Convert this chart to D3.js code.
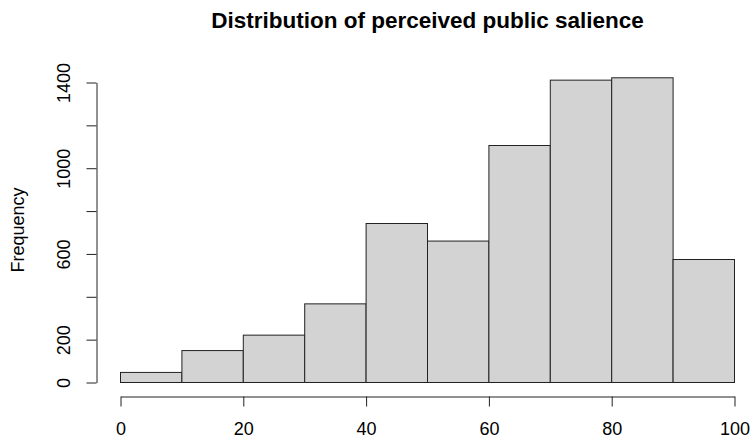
<!DOCTYPE html>
<html>
<head>
<meta charset="utf-8">
<script src="https://cdn.jsdelivr.net/npm/d3@7"></script>
<style>
  html, body { margin: 0; padding: 0; background: #fff; }
  svg { display: block; font-family: "Liberation Sans", Arial, sans-serif; }
</style>
</head>
<body>
<svg id="chart" width="752" height="444"></svg>
<script>
// Histogram bins (lower and upper edges) and counts
const binStarts = [0, 10, 20, 30, 40, 50, 60, 70, 80, 90];
const binEnds   = [10, 20, 30, 40, 50, 60, 70, 80, 90, 100];
const counts    = [47, 149, 221, 367, 742, 660, 1106, 1411, 1422, 574];

// Axis ticks
const xTicks = [0, 20, 40, 60, 80, 100];
const yTicks = [0, 200, 400, 600, 800, 1000, 1200, 1400];
const yTickLabels = ["0", "200", "", "600", "", "1000", "", "1400"];

const titleText = "Distribution of perceived public salience";
const yTitle = "Frequency";

const svg = d3.select("#chart");
const ink = "#222";

const x = d3.scaleLinear().domain([0, 100]).range([120.5, 734.5]);
const y = d3.scaleLinear().domain([0, 1400]).range([382.5, 82.5]);

// Bars
svg.append("g").selectAll("rect")
  .data(counts)
  .join("rect")
  .attr("x", (d, i) => x(binStarts[i]))
  .attr("width", (d, i) => x(binEnds[i]) - x(binStarts[i]))
  .attr("y", d => y(d))
  .attr("height", d => y(0) - y(d))
  .attr("fill", "#d3d3d3")
  .attr("stroke", ink)
  .attr("stroke-width", 1);

// X axis
const xAxis = svg.append("g")
  .attr("transform", "translate(0,396.5)")
  .call(d3.axisBottom(x).tickValues(xTicks).tickFormat(d3.format("d"))
    .tickSize(10).tickSizeOuter(0).tickPadding(16));
xAxis.select(".domain").attr("stroke", ink);
xAxis.selectAll(".tick line").attr("stroke", ink);
xAxis.selectAll(".tick text")
  .attr("fill", "#000")
  .style("font-size", "18px");

// Y axis
const yAxis = svg.append("g")
  .attr("transform", "translate(96.5,0)")
  .call(d3.axisLeft(y).tickValues(yTicks).tickFormat((d, i) => yTickLabels[i])
    .tickSize(10).tickSizeOuter(0));
yAxis.select(".domain").attr("stroke", ink);
yAxis.selectAll(".tick line").attr("stroke", ink);
yAxis.selectAll(".tick text")
  .attr("x", 0).attr("y", 0).attr("dy", 0)
  .attr("text-anchor", "middle")
  .attr("transform", "translate(-26.5,0) rotate(-90)")
  .attr("fill", "#000")
  .style("font-size", "18px");

// Title
svg.append("text")
  .attr("x", 427.5).attr("y", 28.3)
  .attr("text-anchor", "middle")
  .style("font-size", "22.5px")
  .style("font-weight", "bold")
  .attr("fill", "#000")
  .text(titleText);

// Y axis title
svg.append("text")
  .attr("transform", "translate(23.5,230) rotate(-90)")
  .attr("text-anchor", "middle")
  .style("font-size", "18px")
  .attr("fill", "#000")
  .text(yTitle);
</script>
</body>
</html>
